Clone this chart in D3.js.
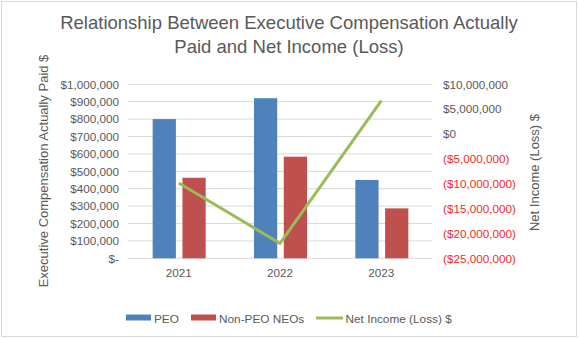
<!DOCTYPE html>
<html><head><meta charset="utf-8">
<script src="https://cdn.jsdelivr.net/npm/d3@7"></script>
<style>body{margin:0;background:#fff}svg{display:block;font-family:"Liberation Sans",Arial,sans-serif}</style>
</head><body><svg id="c" width="579" height="339"></svg>
<script>
const categories = ["2021","2022","2023"];
const peo = [800000, 920000, 450000];
const nonPeo = [463000, 584000, 287000];
const netIncome = [-9850000, -22000000, 6700000];
const leftTicks = [0,100000,200000,300000,400000,500000,600000,700000,800000,900000,1000000];
const rightTicks = [10000000,5000000,0,-5000000,-10000000,-15000000,-20000000,-25000000];
const seriesNames = ["PEO","Non-PEO NEOs","Net Income (Loss) $"];
const colors = ["#4f81bd","#c0504d","#9bbb59"];

const svg = d3.select("#c");
const gray = "#595959";
svg.append("rect").attr("x",1.5).attr("y",1.5).attr("width",575).attr("height",335).attr("fill","#fff").attr("stroke","#d9d9d9");

const plotL=128, plotR=432, plotT=84.3, plotB=258.3;
const x = d3.scaleBand().domain(categories).range([plotL,plotR]);
const xs = d3.scaleBand().domain(["PEO","Non-PEO NEOs"]).range([-26,27]).paddingInner(0.22);
const yL = d3.scaleLinear().domain([0,1000000]).range([plotB,plotT]);
const yR = d3.scaleLinear().domain([-25000000,10000000]).range([plotB,plotT]);

// gridlines
svg.append("g").selectAll("line").data(leftTicks).join("line")
  .attr("x1",plotL).attr("x2",plotR).attr("y1",d=>yL(d)).attr("y2",d=>yL(d))
  .attr("stroke","#d9d9d9").attr("stroke-width",1);

// left axis
const fmtL = d => d===0 ? "$-" : "$" + d3.format(",")(d);
const axL = svg.append("g").attr("transform",`translate(${plotL-9},0)`)
  .call(d3.axisLeft(yL).tickValues(leftTicks).tickFormat(fmtL).tickSize(0).tickPadding(0));
axL.select(".domain").remove();
axL.selectAll("text").attr("fill",gray).style("font-size","11.7px").style("font-family","Liberation Sans, Arial, sans-serif");

// right axis
const fmtR = d => d===0 ? "$0" : (d<0 ? "($"+d3.format(",")(-d)+")" : "$"+d3.format(",")(d));
const axR = svg.append("g").attr("transform",`translate(${plotR+11},0)`)
  .call(d3.axisRight(yR).tickValues(rightTicks).tickFormat(fmtR).tickSize(0).tickPadding(0));
axR.select(".domain").remove();
axR.selectAll("text").attr("fill",d=>d<0?"#ee2a2a":gray).style("font-size","11.7px").style("font-family","Liberation Sans, Arial, sans-serif");

// x axis
const axX = svg.append("g").attr("transform",`translate(0,${plotB+10})`)
  .call(d3.axisBottom(x).tickSize(0).tickPadding(0));
axX.select(".domain").remove();
axX.selectAll("text").attr("fill",gray).style("font-size","11.7px").style("font-family","Liberation Sans, Arial, sans-serif");

// bars
const bars = [peo, nonPeo];
bars.forEach((vals,si)=>{
  svg.append("g").selectAll("rect").data(vals).join("rect")
    .attr("x",(d,i)=>x(categories[i])+x.bandwidth()/2+xs(xs.domain()[si]))
    .attr("width",xs.bandwidth())
    .attr("y",d=>yL(d)).attr("height",d=>plotB-yL(d))
    .attr("fill",colors[si]);
});

// line
const line = d3.line().x((d,i)=>x(categories[i])+x.bandwidth()/2).y(d=>yR(d));
svg.append("path").datum(netIncome).attr("d",line).attr("fill","none")
  .attr("stroke",colors[2]).attr("stroke-width",3).attr("stroke-linejoin","round");

// title
const title = svg.append("text").attr("text-anchor","middle").attr("fill",gray).style("font-size","18.5px");
title.append("tspan").attr("x",289).attr("y",29).text("Relationship Between Executive Compensation Actually");
title.append("tspan").attr("x",289).attr("y",53).text("Paid and Net Income (Loss)");

// axis titles
svg.append("text").attr("transform","translate(48,171) rotate(-90)").attr("text-anchor","middle")
  .attr("fill",gray).style("font-size","13px").text("Executive Compensation Actually Paid $");
svg.append("text").attr("transform","translate(539,172.5) rotate(-90)").attr("text-anchor","middle")
  .attr("fill",gray).style("font-size","13px").text("Net Income (Loss) $");

// legend
const leg = [{x:126,tx:154},{x:191,tx:219},{x:316,tx:345.5}];
leg.forEach((l,i)=>{
  if(i<2) svg.append("rect").attr("x",l.x).attr("y",314.5).attr("width",25).attr("height",6).attr("fill",colors[i]);
  else svg.append("line").attr("x1",l.x).attr("x2",l.x+27).attr("y1",318).attr("y2",318).attr("stroke",colors[i]).attr("stroke-width",3);
  svg.append("text").attr("x",l.tx).attr("y",322.5).attr("fill",gray).style("font-size","11.8px").text(seriesNames[i]);
});
</script></body></html>
